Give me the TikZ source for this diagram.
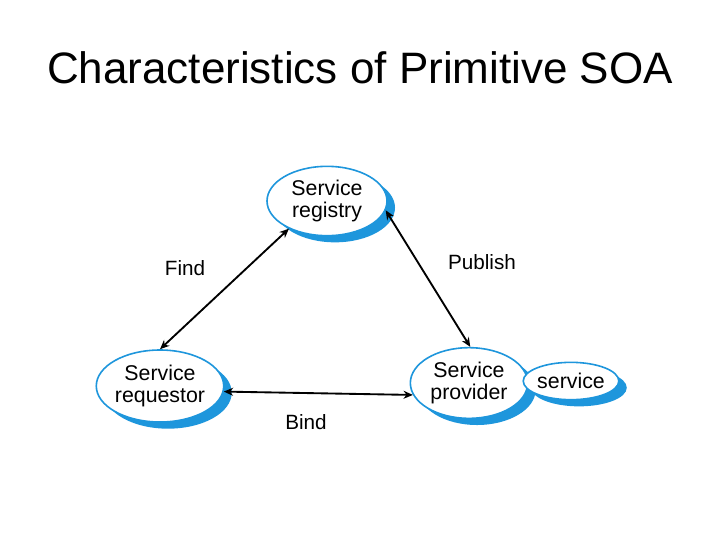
\documentclass[tikz,border=0pt]{standalone}
\usepackage{fontspec}
\setmainfont{Liberation Sans}
\usetikzlibrary{shapes.geometric,arrows.meta,shadows}
\definecolor{soablue}{RGB}{30,150,220}
\tikzset{
  bubble/.style={ellipse, draw=soablue, line width=1.2pt, fill=white, inner sep=0pt,
    align=center, font=\fontsize{16}{16.5}\selectfont,
    drop shadow={shadow xshift=6pt, shadow yshift=-5pt, fill=soablue, opacity=1}},
  link/.style={line width=1.4pt, {Stealth[length=7pt,width=6pt]}-{Stealth[length=7pt,width=6pt]}},
  lbl/.style={font=\fontsize{15.5}{16}\selectfont, inner sep=0pt}
}
\begin{document}
\begin{tikzpicture}[x=0.75pt,y=-0.75pt]
\useasboundingbox (0,0) rectangle (720,540);
\node[font=\fontsize{33}{36}\selectfont] (title) at (360,68) {Characteristics of Primitive SOA};
\node[bubble, minimum width=90pt, minimum height=52pt] (reg) at (327,201) {Service\\registry};
\node[bubble, minimum width=94pt, minimum height=54pt] (req) at (160,386) {Service\\requestor};
\node[bubble, minimum width=88pt, minimum height=53pt] (prov) at (469,383) {Service\\provider};
\node[bubble, minimum width=70pt, minimum height=28pt] (svc) at (571,381) {service};
\draw[link] (req.north) -- (reg.216);
\draw[link] (reg.-9) -- (prov.88);
\draw[link] (req.-5) -- (prov.192);
\node[lbl] (find) at (185,268) {Find};
\node[lbl] (pub) at (482,262) {Publish};
\node[lbl] (bind) at (306,422) {Bind};
\end{tikzpicture}
\end{document}
